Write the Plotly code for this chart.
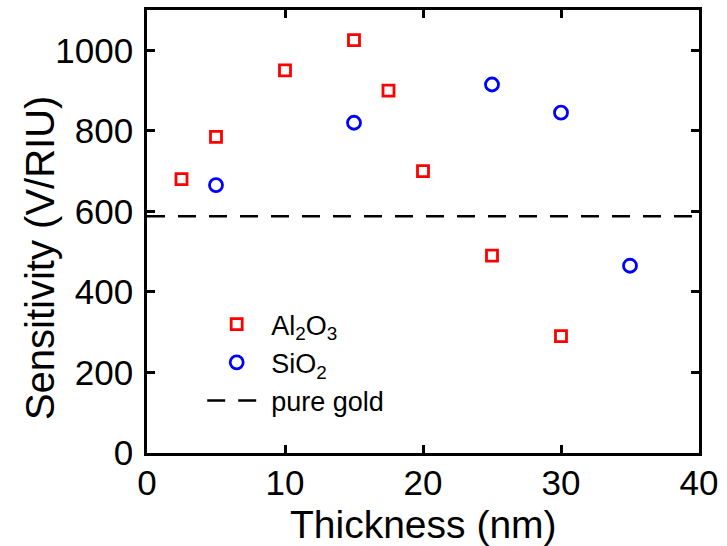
import plotly.graph_objects as go

al_x = [2.5, 5, 10, 15, 17.5, 20, 25, 30]
al_y = [680, 785, 950, 1025, 900, 700, 490, 290]
si_x = [5, 15, 25, 30, 35]
si_y = [665, 820, 915, 845, 465]
gold_x = [0, 40]
gold_y = [588, 588]
x_ticks = [0, 10, 20, 30, 40]
y_ticks = [0, 200, 400, 600, 800, 1000]

FONT = "Liberation Sans, Arial"

fig = go.Figure()
fig.add_trace(go.Scatter(x=al_x, y=al_y, mode="markers", name="Al<sub>2</sub>O<sub>3</sub>",
                         marker=dict(symbol="square-open", size=11, color="#ff0000", line=dict(width=2.8))))
fig.add_trace(go.Scatter(x=si_x, y=si_y, mode="markers", name="SiO<sub>2</sub>",
                         marker=dict(symbol="circle-open", size=13, color="#0000ff", line=dict(width=2.8))))
fig.add_trace(go.Scatter(x=gold_x, y=gold_y, mode="lines", name="pure gold",
                         line=dict(color="black", width=2.5, dash="18px,13px")))

axis_common = dict(showline=True, linecolor="black", linewidth=2.7, mirror="ticks",
                   ticks="inside", ticklen=8, tickwidth=2.5, tickcolor="black",
                   showgrid=False, zeroline=False, automargin=False,
                   tickfont=dict(family=FONT, size=35, color="black"))

fig.update_xaxes(range=[0, 40], tickvals=x_ticks, ticklabelstandoff=-3, **axis_common)
fig.update_yaxes(range=[0, 1100], tickvals=y_ticks, ticklabelstandoff=4, **axis_common)

fig.update_layout(width=727, height=546, margin=dict(l=147, r=28, t=10, b=93),
                  paper_bgcolor="white", plot_bgcolor="white",
                  showlegend=True,
                  legend=dict(x=0.1, y=0.345, xanchor="left", yanchor="top",
                              bgcolor="rgba(0,0,0,0)", borderwidth=0,
                              font=dict(family=FONT, size=27, color="black"),
                              itemwidth=59, tracegroupgap=14),
                  annotations=[
                      dict(text="Thickness (nm)", xref="paper", yref="paper", x=0.5, y=0,
                           xanchor="center", yanchor="middle", yshift=-71, showarrow=False,
                           font=dict(family=FONT, size=39, color="black")),
                      dict(text="Sensitivity (V/RIU)", xref="paper", yref="paper", x=0, y=0.44,
                           xanchor="center", yanchor="middle", xshift=-107, textangle=-90,
                           showarrow=False, font=dict(family=FONT, size=40, color="black")),
                  ])

fig.write_html("out.html", config={"displayModeBar": False},
               post_script="document.body.style.margin='0';document.body.style.padding='0';")
